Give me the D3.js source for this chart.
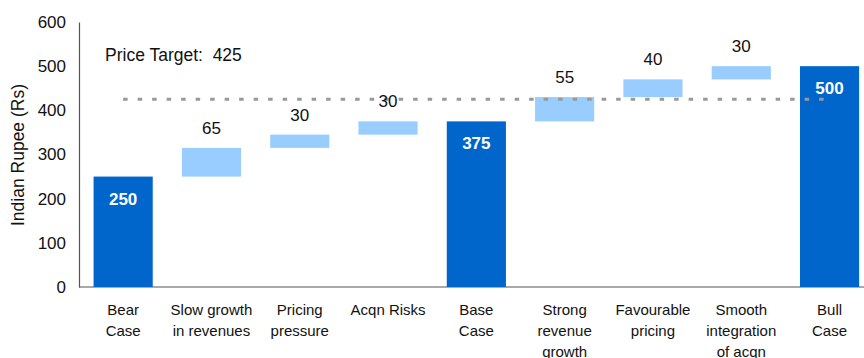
<!DOCTYPE html>
<html>
<head>
<meta charset="utf-8">
<script src="https://cdn.jsdelivr.net/npm/d3@7"></script>
<style>
  html, body { margin: 0; padding: 0; background: #fff; }
  svg { display: block; font-family: "Liberation Sans", Arial, sans-serif; }
</style>
</head>
<body>
<svg id="chart" width="864" height="358"></svg>
<script>
// Waterfall steps from bear case to bull case (Rs per share)
const categories = [
  ["Bear", "Case"],
  ["Slow growth", "in revenues"],
  ["Pricing", "pressure"],
  ["Acqn Risks"],
  ["Base", "Case"],
  ["Strong", "revenue", "growth"],
  ["Favourable", "pricing"],
  ["Smooth", "integration", "of acqn"],
  ["Bull", "Case"]
];
const stepValues = [250, 65, 30, 30, 375, 55, 40, 30, 500];
const isTotal = [true, false, false, false, true, false, false, false, true];
const priceTarget = 425;
const yTicks = [0, 100, 200, 300, 400, 500, 600];

// Build floating segments: totals start at zero, steps stack on the running total
let running = 0;
const segments = stepValues.map((v, i) => {
  let lo, hi;
  if (isTotal[i]) { lo = 0; hi = v; running = v; }
  else { lo = running; hi = running + v; running = hi; }
  return { i, value: v, lo, hi, total: isTotal[i], lines: categories[i] };
});

const svg = d3.select("#chart");
const plotLeft = 79, plotTop = 22, plotBottom = 287;

const x = d3.scaleBand()
  .domain(d3.range(categories.length))
  .range([plotLeft, plotLeft + 9 * 88.3])
  .paddingInner(0.33)
  .paddingOuter(0.165);

const y = d3.scaleLinear().domain([0, 600]).range([plotBottom, plotTop]);

// Y axis (no tick marks, just labels and the spine)
const yAxis = svg.append("g")
  .attr("transform", `translate(${plotLeft},0)`)
  .call(d3.axisLeft(y).tickValues(yTicks).tickSize(0).tickPadding(13));
yAxis.select(".domain").attr("stroke", "#555").attr("stroke-width", 1.2);
yAxis.selectAll("text").attr("font-size", 17).attr("fill", "#111")
  .attr("font-family", "Liberation Sans, Arial, sans-serif");

// Baseline
svg.append("line")
  .attr("x1", plotLeft).attr("x2", 864)
  .attr("y1", y(0)).attr("y2", y(0))
  .attr("stroke", "#555").attr("stroke-width", 1.2);

// Y axis title
svg.append("text")
  .attr("transform", "translate(24,155) rotate(-90)")
  .attr("text-anchor", "middle")
  .attr("font-size", 17.5)
  .attr("fill", "#111")
  .text("Indian Rupee (Rs)");

// Bars
svg.append("g").selectAll("rect")
  .data(segments)
  .join("rect")
  .attr("x", d => x(d.i))
  .attr("width", x.bandwidth())
  .attr("y", d => y(d.hi))
  .attr("height", d => y(d.lo) - y(d.hi))
  .attr("fill", d => d.total ? "#0066CC" : "#99CCFF");

// Price target reference line
svg.append("line")
  .attr("x1", x(0) + x.bandwidth() / 2)
  .attr("x2", x(8) + x.bandwidth() / 2)
  .attr("y1", y(priceTarget)).attr("y2", y(priceTarget))
  .attr("stroke", "#999")
  .attr("stroke-width", 3)
  .attr("stroke-dasharray", "4.5 10");

svg.append("text")
  .attr("x", 105)
  .attr("y", 61)
  .attr("font-size", 17.5)
  .attr("fill", "#111")
  .style("white-space", "pre")
  .text("Price Target:  " + priceTarget);

// Value labels: white inside totals, black above steps
svg.append("g").selectAll("text")
  .data(segments)
  .join("text")
  .attr("x", d => x(d.i) + x.bandwidth() / 2)
  .attr("y", d => d.total ? y(d.hi) + 28 : y(d.hi) - 14)
  .attr("text-anchor", "middle")
  .attr("font-size", 17)
  .attr("font-weight", d => d.total ? "bold" : "normal")
  .attr("fill", d => d.total ? "#fff" : "#111")
  .text(d => d.value);

// Category labels (multi-line)
const cat = svg.append("g").selectAll("text")
  .data(segments)
  .join("text")
  .attr("x", d => x(d.i) + x.bandwidth() / 2)
  .attr("y", 315)
  .attr("text-anchor", "middle")
  .attr("font-size", 15)
  .attr("fill", "#111");
cat.selectAll("tspan")
  .data(d => d.lines.map(t => ({ t, cx: x(d.i) + x.bandwidth() / 2 })))
  .join("tspan")
  .attr("x", t => t.cx)
  .attr("dy", (t, k) => k === 0 ? 0 : 21)
  .text(t => t.t);
</script>
</body>
</html>
